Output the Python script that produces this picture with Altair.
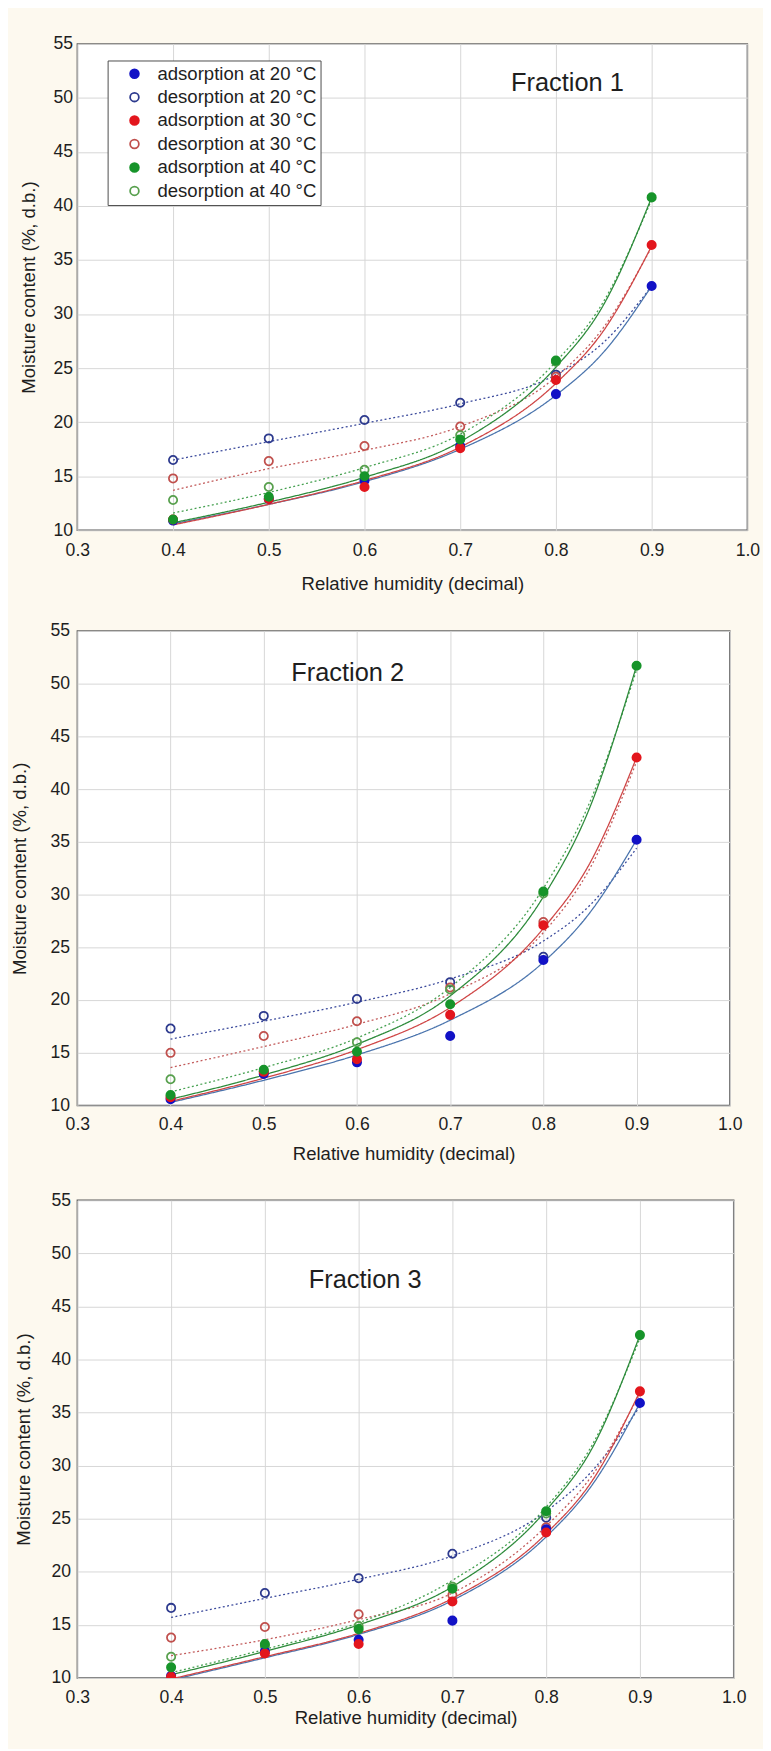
import altair as alt
import pandas as pd

# ---------------- data ----------------
RH = [0.4, 0.5, 0.6, 0.7, 0.8, 0.9]
FIT_RH = [0.4, 0.5, 0.6, 0.7, 0.8, 0.85, 0.9]

SERIES = [
    "adsorption at 20 °C", "desorption at 20 °C",
    "adsorption at 30 °C", "desorption at 30 °C",
    "adsorption at 40 °C", "desorption at 40 °C",
]
DRAW_ORDER = [
    "desorption at 20 °C", "desorption at 30 °C", "desorption at 40 °C",
    "adsorption at 20 °C", "adsorption at 30 °C", "adsorption at 40 °C",
]

X_TICKS = [0.3, 0.4, 0.5, 0.6, 0.7, 0.8, 0.9, 1.0]
Y_TICKS = [10, 15, 20, 25, 30, 35, 40, 45, 50, 55]

FRACTION_LABELS = ["Fraction 1", "Fraction 2", "Fraction 3"]
FRACTION_X = [0.812, 0.590, 0.607]
FRACTION_Y = [51.4, 51.0, 47.5]

# Fraction 1 measured points
F1_ADS20 = [10.9, 12.9, 14.6, 17.8, 22.6, 32.6]
F1_DES20 = [16.5, 18.5, 20.2, 21.8, 24.4, None]
F1_ADS30 = [11.0, 12.9, 14.0, 17.6, 23.9, 36.4]
F1_DES30 = [14.8, 16.4, 17.8, 19.6, 24.2, None]
F1_ADS40 = [11.0, 13.1, 15.0, 18.4, 25.7, 40.8]
F1_DES40 = [12.8, 14.0, 15.6, 18.8, 25.6, None]
# Fraction 1 fitted curves (read at FIT_RH)
F1_FIT_ADS20 = [10.6, 12.4, 14.5, 17.5, 22.5, 26.5, 32.6]
F1_FIT_DES20 = [16.5, 18.2, 19.9, 21.7, 24.4, 27.4, 32.6]
F1_FIT_ADS30 = [10.5, 12.4, 14.6, 17.7, 23.6, 28.5, 36.3]
F1_FIT_DES30 = [13.7, 15.7, 17.4, 19.6, 24.2, 28.8, 36.2]
F1_FIT_ADS40 = [10.7, 12.6, 14.9, 18.2, 25.1, 30.9, 40.8]
F1_FIT_DES40 = [11.6, 13.5, 15.8, 18.9, 25.6, 31.2, 40.6]

# Fraction 2 measured points
F2_ADS20 = [10.6, 13.0, 14.1, 16.6, 23.8, 35.2]
F2_DES20 = [17.3, 18.5, 20.1, 21.7, 24.1, None]
F2_ADS30 = [10.8, 13.2, 14.4, 18.6, 27.1, 43.0]
F2_DES30 = [15.0, 16.6, 18.0, 21.2, 27.4, None]
F2_ADS40 = [11.0, 13.4, 15.1, 19.6, 30.3, 51.7]
F2_DES40 = [12.5, 13.2, 16.0, 21.0, 30.1, None]
# Fraction 2 fitted curves
F2_FIT_ADS20 = [10.3, 12.4, 14.8, 18.1, 23.6, 28.3, 35.2]
F2_FIT_DES20 = [16.3, 18.0, 19.8, 22.0, 25.6, 29.0, 34.4]
F2_FIT_ADS30 = [10.4, 12.6, 15.3, 19.3, 26.8, 33.0, 43.0]
F2_FIT_DES30 = [13.6, 15.6, 17.7, 20.6, 26.4, 32.5, 42.6]
F2_FIT_ADS40 = [10.6, 12.9, 15.8, 20.4, 29.8, 38.3, 51.7]
F2_FIT_DES40 = [11.3, 13.6, 16.4, 21.2, 30.6, 38.8, 51.3]

# Fraction 3 measured points
F3_ADS20 = [10.2, 12.5, 13.6, 15.4, 24.0, 35.9]
F3_DES20 = [16.6, 18.0, 19.4, 21.7, 25.1, None]
F3_ADS30 = [10.1, 12.3, 13.2, 17.2, 23.7, 37.0]
F3_DES30 = [13.8, 14.8, 16.0, 17.8, 24.2, None]
F3_ADS40 = [11.0, 13.2, 14.6, 18.4, 25.7, 42.3]
F3_DES40 = [12.0, 13.0, 14.9, 18.6, 25.5, None]
# Fraction 3 fitted curves
F3_FIT_ADS20 = [9.8, 11.9, 14.1, 17.3, 23.3, 28.3, 35.9]
F3_FIT_DES20 = [15.7, 17.5, 19.3, 21.5, 25.7, 29.6, 35.6]
F3_FIT_ADS30 = [9.9, 12.0, 14.2, 17.5, 23.6, 28.7, 37.0]
F3_FIT_DES30 = [12.1, 13.6, 15.5, 18.0, 24.3, 29.2, 36.8]
F3_FIT_ADS40 = [10.3, 12.5, 15.0, 18.6, 25.8, 31.8, 42.3]
F3_FIT_DES40 = [10.5, 12.7, 15.2, 19.2, 26.1, 32.1, 42.0]

# ---------------- styles ----------------
CREAM = "#fdf9ef"
FONT = "Liberation Sans"
TEXT_COLOR = "#1e1e1e"
POINT_FILL = ["#1212c6", "transparent", "#e3161d", "transparent", "#17942a", "transparent"]
POINT_STROKE = ["#1212c6", "#2d3a8e", "#e3161d", "#c0504d", "#17942a", "#58a04e"]
LINE_COLOR = {
    "adsorption at 20 °C": "#4a74ad", "desorption at 20 °C": "#3b4a9c",
    "adsorption at 30 °C": "#cf4545", "desorption at 30 °C": "#c25a5a",
    "adsorption at 40 °C": "#2c8a3a", "desorption at 40 °C": "#45a050",
}
SOLID = [1, 0]
DOTTED = [2, 2.5]


def build_points(series_lists):
    rows = []
    for name in DRAW_ORDER:
        for rh, v in zip(RH, series_lists[name]):
            if v is not None:
                rows.append({"rh": rh, "mc": v, "series": name})
    return pd.DataFrame(rows)


def build_fits(series_lists):
    rows = []
    for name in DRAW_ORDER:
        for rh, v in zip(FIT_RH, series_lists[name]):
            rows.append({"rh": rh, "mc": v, "fit": name})
    return pd.DataFrame(rows)


def panel(idx, pts, fits, width, height, show_legend,
          y_label_pad, y_title_pad, x_label_pad, x_title_pad):
    xscale = alt.Scale(domain=[0.3, 1.0], nice=False, zero=False)
    yscale = alt.Scale(domain=[10, 55], nice=False, zero=False)
    xaxis = alt.Axis(values=X_TICKS, format=".1f", title="Relative humidity (decimal)",
                     labelFlush=False, labelPadding=x_label_pad, titlePadding=x_title_pad)
    yaxis = alt.Axis(values=Y_TICKS, format="d", title="Moisture content (%, d.b.)",
                     labelFlush=False, labelPadding=y_label_pad, titlePadding=y_title_pad)

    fit_df = build_fits(fits)
    pt_df = build_points(pts)
    txt_df = pd.DataFrame({"rh": [FRACTION_X[idx]], "mc": [FRACTION_Y[idx]],
                           "label": [FRACTION_LABELS[idx]]})

    if show_legend:
        leg = alt.Legend(title=None, orient="none", legendX=31, legendY=17,
                         labelFont=FONT, labelFontSize=19, labelColor=TEXT_COLOR,
                         labelLimit=400,
                         symbolType="circle", symbolSize=80, symbolStrokeWidth=1.8,
                         symbolOffset=14, labelOffset=14, padding=4, rowPadding=4,
                         strokeColor="#4a4a4a", fillColor="white", zindex=2)
    else:
        leg = None

    # line scales use DRAW_ORDER as domain (keeps them apart from the point legend)
    lines = alt.Chart(fit_df).mark_line(clip=True, interpolate="monotone", strokeWidth=1.3).encode(
        x=alt.X("rh:Q", scale=xscale, axis=xaxis),
        y=alt.Y("mc:Q", scale=yscale, axis=yaxis),
        color=alt.Color("fit:N", scale=alt.Scale(domain=DRAW_ORDER,
                                                 range=[LINE_COLOR[s] for s in DRAW_ORDER]),
                        legend=None),
        strokeDash=alt.StrokeDash("fit:N", scale=alt.Scale(
            domain=DRAW_ORDER,
            range=[DOTTED if s.startswith("des") else SOLID for s in DRAW_ORDER]),
            legend=None),
    )
    points = alt.Chart(pt_df).mark_point(shape="circle", size=72, strokeWidth=1.8,
                                         opacity=1, clip=True).encode(
        x=alt.X("rh:Q", scale=xscale),
        y=alt.Y("mc:Q", scale=yscale),
        fill=alt.Fill("series:N", scale=alt.Scale(domain=SERIES, range=POINT_FILL), legend=leg),
        stroke=alt.Stroke("series:N", scale=alt.Scale(domain=SERIES, range=POINT_STROKE), legend=leg),
    )
    label = alt.Chart(txt_df).mark_text(font=FONT, fontSize=26, color=TEXT_COLOR,
                                        align="center", baseline="middle").encode(
        x=alt.X("rh:Q", scale=xscale),
        y=alt.Y("mc:Q", scale=yscale),
        text="label:N",
    )
    return alt.layer(lines, points, label).properties(width=width, height=height)


p1 = panel(0,
           {SERIES[0]: F1_ADS20, SERIES[1]: F1_DES20, SERIES[2]: F1_ADS30,
            SERIES[3]: F1_DES30, SERIES[4]: F1_ADS40, SERIES[5]: F1_DES40},
           {SERIES[0]: F1_FIT_ADS20, SERIES[1]: F1_FIT_DES20, SERIES[2]: F1_FIT_ADS30,
            SERIES[3]: F1_FIT_DES30, SERIES[4]: F1_FIT_ADS40, SERIES[5]: F1_FIT_DES40},
           686, 498, True, 5, 15, 12, 16)
p2 = panel(1,
           {SERIES[0]: F2_ADS20, SERIES[1]: F2_DES20, SERIES[2]: F2_ADS30,
            SERIES[3]: F2_DES30, SERIES[4]: F2_ADS40, SERIES[5]: F2_DES40},
           {SERIES[0]: F2_FIT_ADS20, SERIES[1]: F2_FIT_DES20, SERIES[2]: F2_FIT_ADS30,
            SERIES[3]: F2_FIT_DES30, SERIES[4]: F2_FIT_ADS40, SERIES[5]: F2_FIT_DES40},
           668, 486, False, 8, 21, 11, 11)
p3 = panel(2,
           {SERIES[0]: F3_ADS20, SERIES[1]: F3_DES20, SERIES[2]: F3_ADS30,
            SERIES[3]: F3_DES30, SERIES[4]: F3_ADS40, SERIES[5]: F3_DES40},
           {SERIES[0]: F3_FIT_ADS20, SERIES[1]: F3_FIT_DES20, SERIES[2]: F3_FIT_ADS30,
            SERIES[3]: F3_FIT_DES30, SERIES[4]: F3_FIT_ADS40, SERIES[5]: F3_FIT_DES40},
           672, 489, False, 7, 18, 11, 3)

chart = alt.vconcat(p1, p2, p3, spacing=27).resolve_scale(
    x="independent", y="independent", color="independent",
    fill="independent", stroke="independent", strokeDash="independent",
).configure(
    background=CREAM,
    padding={"left": 2, "top": 6, "right": 2, "bottom": 0},
    font=FONT,
).configure_view(
    fill="white", stroke="#5a5a5a", strokeWidth=1.5,
).configure_axis(
    labelFont=FONT, labelFontSize=18, labelColor=TEXT_COLOR,
    titleFont=FONT, titleFontSize=19, titleFontWeight="normal", titleColor=TEXT_COLOR,
    grid=True, gridColor="#d6d6d6", gridWidth=1,
    domain=False, ticks=False, tickSize=0, labelOverlap=False,
)

chart.save("out.html", embed_options={"renderer": "svg", "actions": False})
